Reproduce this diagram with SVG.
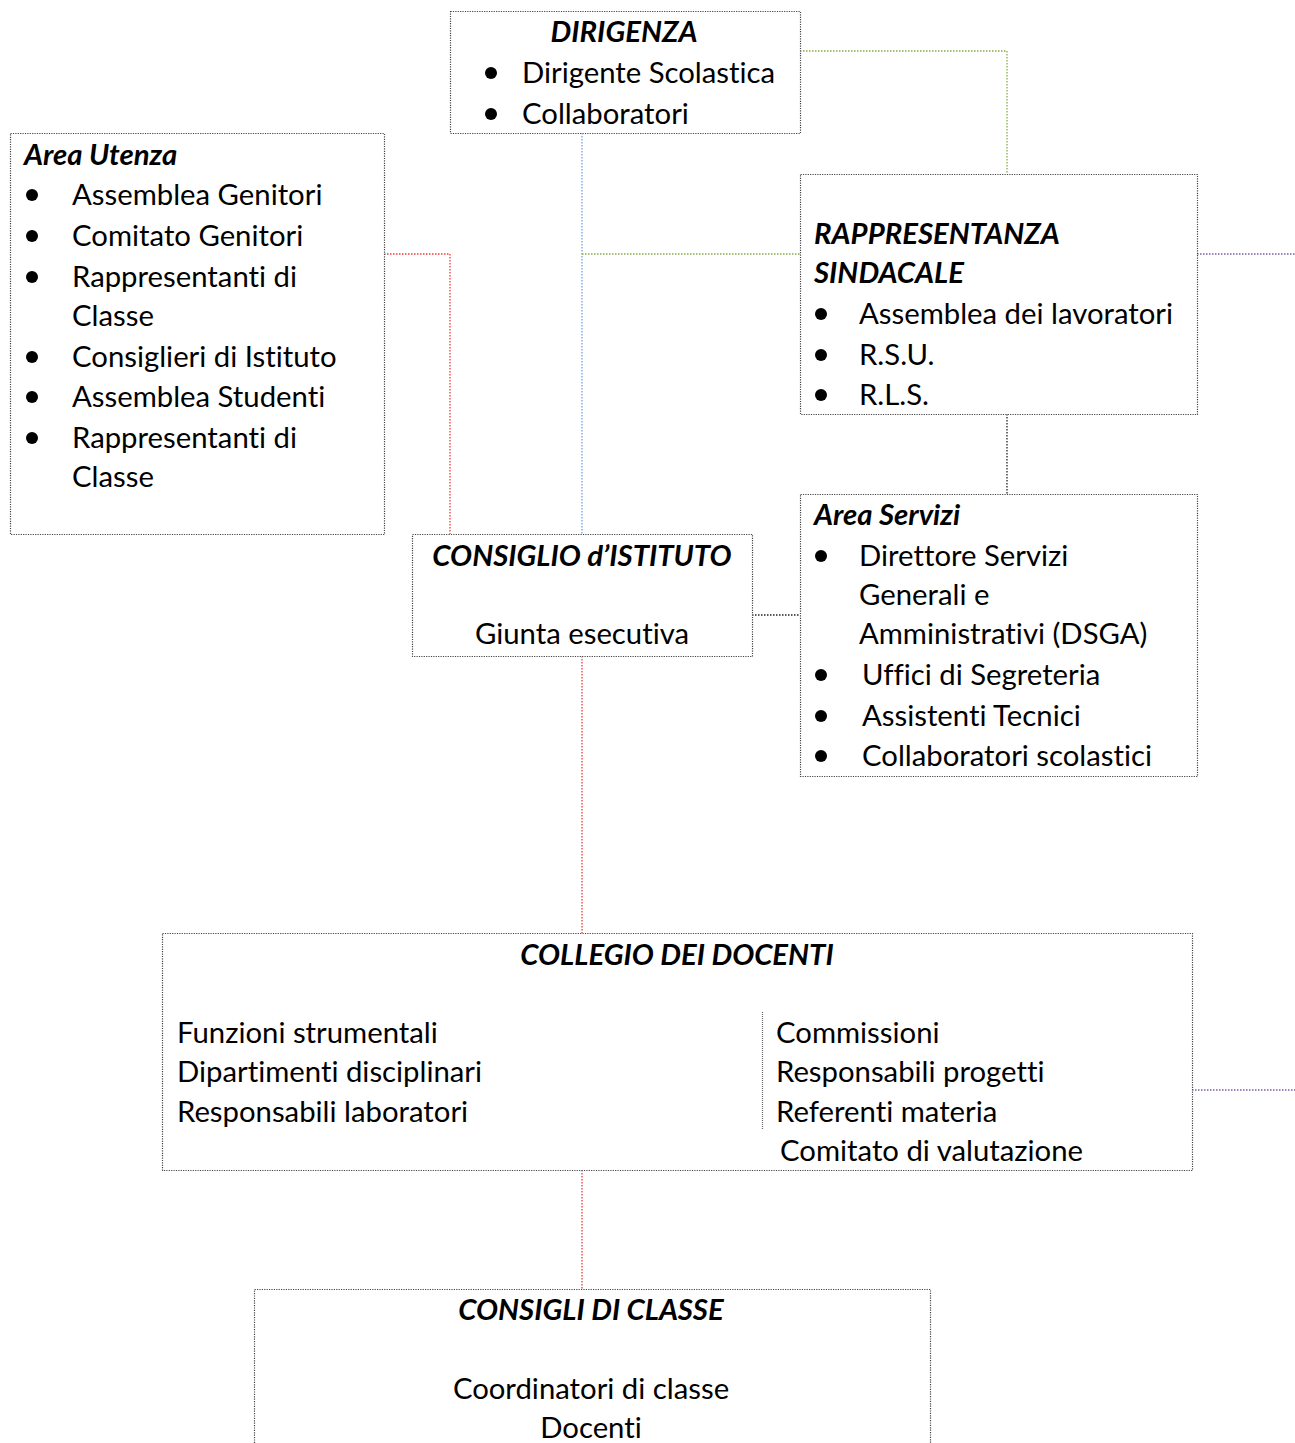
<svg xmlns="http://www.w3.org/2000/svg" width="1295" height="1443" viewBox="0 0 1295 1443">
<style>
.box{fill:#fff;stroke:#444;stroke-width:1.2;stroke-dasharray:1.2 1.2}
text{font-family:Lato,"Open Sans","Liberation Sans",sans-serif;font-size:29.3px;fill:#000;font-variant-ligatures:none;font-feature-settings:"liga" 0}
.t{font-weight:bold;font-style:italic}
.c{text-anchor:middle}
.b{fill:#000}
.cn{fill:none;stroke-width:1.3;stroke-dasharray:1.5 1.5}
.red{stroke:#ee3b3b}
.blue{stroke:#6f9fe0}
.green{stroke:#8aab45}
.purple{stroke:#7a5fa5}
.dark{stroke:#222}
.sep{stroke:#666;stroke-width:1.2;stroke-dasharray:1 1}
</style>
<g id="connectors">
<path class="cn green" d="M800,51 H1007 V174"/>
<path class="cn blue" d="M582,133 V534"/>
<path class="cn green" d="M582,254 H800"/>
<path class="cn red" d="M384,254 H450 V534"/>
<path class="cn purple" d="M1197,254 H1295"/>
<path class="cn dark" d="M1007,414 V494"/>
<path class="cn dark" d="M752,615 H800"/>
<path class="cn red" d="M582,656 V933"/>
<path class="cn red" d="M582,1170 V1289"/>
<path class="cn purple" d="M1192,1090 H1295"/>
</g>
<g id="dirigenza">
<rect class="box" x="450.5" y="11.5" width="350" height="122"/>
<text class="t c" x="624" y="42">DIRIGENZA</text>
<circle class="b" cx="491" cy="73" r="6"/>
<text x="522" y="83">Dirigente Scolastica</text>
<circle class="b" cx="491" cy="114" r="6"/>
<text x="522" y="124">Collaboratori</text>
</g>
<g id="area-utenza">
<rect class="box" x="10.5" y="133.5" width="374" height="401"/>
<text class="t" x="24" y="165">Area Utenza</text>
<circle class="b" cx="32" cy="195" r="6"/>
<text x="72" y="205">Assemblea Genitori</text>
<circle class="b" cx="32" cy="236" r="6"/>
<text x="72" y="246">Comitato Genitori</text>
<circle class="b" cx="32" cy="277" r="6"/>
<text x="72" y="287">Rappresentanti di</text>
<text x="72" y="326">Classe</text>
<circle class="b" cx="32" cy="357" r="6"/>
<text x="72" y="367">Consiglieri di Istituto</text>
<circle class="b" cx="32" cy="397" r="6"/>
<text x="72" y="407">Assemblea Studenti</text>
<circle class="b" cx="32" cy="438" r="6"/>
<text x="72" y="448">Rappresentanti di</text>
<text x="72" y="487">Classe</text>
</g>
<g id="rappresentanza">
<rect class="box" x="800.5" y="174.5" width="397" height="240"/>
<text class="t" x="814" y="244">RAPPRESENTANZA</text>
<text class="t" x="814" y="283">SINDACALE</text>
<circle class="b" cx="821" cy="314" r="6"/>
<text x="859" y="324">Assemblea dei lavoratori</text>
<circle class="b" cx="821" cy="355" r="6"/>
<text x="859" y="365">R.S.U.</text>
<circle class="b" cx="821" cy="395" r="6"/>
<text x="859" y="405">R.L.S.</text>
</g>
<g id="area-servizi">
<rect class="box" x="800.5" y="494.5" width="397" height="282"/>
<text class="t" x="814" y="525">Area Servizi</text>
<circle class="b" cx="821" cy="556" r="6"/>
<text x="859" y="566">Direttore Servizi</text>
<text x="859" y="605">Generali e</text>
<text x="859" y="644">Amministrativi (DSGA)</text>
<circle class="b" cx="821" cy="675" r="6"/>
<text x="862" y="685">Uffici di Segreteria</text>
<circle class="b" cx="821" cy="716" r="6"/>
<text x="862" y="726">Assistenti Tecnici</text>
<circle class="b" cx="821" cy="756" r="6"/>
<text x="862" y="766">Collaboratori scolastici</text>
</g>
<g id="consiglio-istituto">
<rect class="box" x="412.5" y="534.5" width="340" height="122"/>
<text class="t c" x="582" y="566">CONSIGLIO d’ISTITUTO</text>
<text class="c" x="582" y="644">Giunta esecutiva</text>
</g>
<g id="collegio-docenti">
<rect class="box" x="162.5" y="933.5" width="1030" height="237"/>
<text class="t c" x="677" y="965">COLLEGIO DEI DOCENTI</text>
<text x="177" y="1043">Funzioni strumentali</text>
<text x="177" y="1082">Dipartimenti disciplinari</text>
<text x="177" y="1122">Responsabili laboratori</text>
<line class="sep" x1="762.5" y1="1012" x2="762.5" y2="1130"/>
<text x="776" y="1043">Commissioni</text>
<text x="776" y="1082">Responsabili progetti</text>
<text x="776" y="1122">Referenti materia</text>
<text x="780" y="1161">Comitato di valutazione</text>
</g>
<g id="consigli-classe">
<path class="box" d="M254.5,1443 V1289.5 H930.5 V1443"/>
<text class="t c" x="591" y="1320">CONSIGLI DI CLASSE</text>
<text class="c" x="591" y="1399">Coordinatori di classe</text>
<text class="c" x="591" y="1438">Docenti</text>
</g>
</svg>
